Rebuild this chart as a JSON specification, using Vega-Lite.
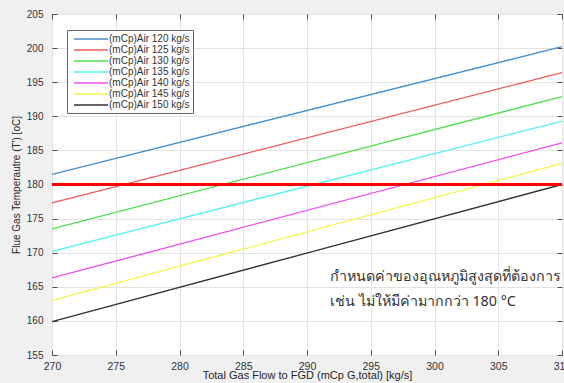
{
  "$schema": "https://vega.github.io/schema/vega-lite/v6.json",
  "autosize": "none",
  "width": 510,
  "height": 341,
  "padding": {"left": 52, "top": 14, "right": 2, "bottom": 28},
  "background": "#f0f0f0",
  "config": {
    "font": "Liberation Sans",
    "view": {"fill": "white", "stroke": "#4d4d4d", "strokeWidth": 1},
    "axis": {
      "labelFont": "Liberation Sans",
      "titleFont": "Liberation Sans",
      "labelColor": "#333333",
      "titleColor": "#262626",
      "labelFontSize": 10.5,
      "titleFontSize": 11,
      "titleFontWeight": "normal",
      "gridColor": "#e3e3e3",
      "gridWidth": 1,
      "domain": false,
      "tickColor": "#4d4d4d",
      "tickSize": -5
    }
  },
  "datasets": {
    "lines": [
      {"series": "(mCp)Air 120 kg/s", "flow": 270, "temp": 181.5},
      {"series": "(mCp)Air 120 kg/s", "flow": 310, "temp": 200.2},
      {"series": "(mCp)Air 125 kg/s", "flow": 270, "temp": 177.3},
      {"series": "(mCp)Air 125 kg/s", "flow": 310, "temp": 196.4},
      {"series": "(mCp)Air 130 kg/s", "flow": 270, "temp": 173.5},
      {"series": "(mCp)Air 130 kg/s", "flow": 310, "temp": 192.9},
      {"series": "(mCp)Air 135 kg/s", "flow": 270, "temp": 170.2},
      {"series": "(mCp)Air 135 kg/s", "flow": 310, "temp": 189.3},
      {"series": "(mCp)Air 140 kg/s", "flow": 270, "temp": 166.3},
      {"series": "(mCp)Air 140 kg/s", "flow": 310, "temp": 186.1},
      {"series": "(mCp)Air 145 kg/s", "flow": 270, "temp": 163.0},
      {"series": "(mCp)Air 145 kg/s", "flow": 310, "temp": 183.1},
      {"series": "(mCp)Air 150 kg/s", "flow": 270, "temp": 159.9},
      {"series": "(mCp)Air 150 kg/s", "flow": 310, "temp": 180.0}
    ],
    "limit": [{"temp": 180}],
    "notes": [
      {"flow": 291.8, "temp": 166.4, "label": "กำหนดค่าของอุณหภูมิสูงสุดที่ต้องการ"},
      {"flow": 291.8, "temp": 162.7, "label": "เช่น ไม่ให้มีค่ามากกว่า 180 °C"}
    ]
  },
  "layer": [
    {
      "data": {"name": "lines"},
      "mark": {"type": "line", "strokeWidth": 1.3},
      "encoding": {
        "x": {
          "field": "flow", "type": "quantitative",
          "scale": {"domain": [270, 310], "nice": false, "zero": false},
          "axis": {"values": [270, 275, 280, 285, 290, 295, 300, 305, 310], "title": "Total Gas Flow to FGD (mCp G,total) [kg/s]", "labelPadding": 11, "titlePadding": -2, "labelFlush": false}
        },
        "y": {
          "field": "temp", "type": "quantitative",
          "scale": {"domain": [155, 205], "nice": false, "zero": false},
          "axis": {"values": [155, 160, 165, 170, 175, 180, 185, 190, 195, 200, 205], "title": "Flue Gas Temperautre (T') [oC]", "titleFontSize": 10, "labelFontSize": 10, "labelPadding": 14, "titlePadding": 5}
        },
        "color": {
          "field": "series", "type": "nominal",
          "scale": {"range": ["#4a8fc9", "#f05a5a", "#4ee04e", "#55f0f0", "#f04ef0", "#f5f54a", "#333333"]},
          "legend": {
            "title": null,
            "orient": "none",
            "legendX": 15,
            "legendY": 16,
            "fillColor": "white",
            "strokeColor": "#666666",
            "padding": 3,
            "symbolType": "M-3.4,0H3.4",
            "symbolSize": 100,
            "symbolStrokeWidth": 1.5,
            "labelFontSize": 10,
            "labelFont": "Liberation Sans",
            "labelColor": "#333333",
            "rowPadding": -1.6,
            "symbolOffset": 15,
            "labelOffset": 12
          }
        }
      }
    },
    {
      "data": {"name": "limit"},
      "mark": {"type": "rule", "color": "#ff0000", "strokeWidth": 2.8},
      "encoding": {"y": {"field": "temp", "type": "quantitative", "axis": null}}
    },
    {
      "data": {"name": "notes"},
      "mark": {"type": "text", "align": "left", "baseline": "middle", "fontSize": 14.3, "color": "#333333", "font": "Noto Sans"},
      "encoding": {
        "x": {"field": "flow", "type": "quantitative", "axis": null},
        "y": {"field": "temp", "type": "quantitative", "axis": null},
        "text": {"field": "label"}
      }
    },
    {
      "data": {"name": "notes"},
      "mark": {"type": "point", "opacity": 0},
      "encoding": {
        "x": {"field": "flow", "type": "quantitative", "axis": {"orient": "top", "labels": false, "title": null, "grid": false, "values": [270, 275, 280, 285, 290, 295, 300, 305, 310]}},
        "y": {"field": "temp", "type": "quantitative", "axis": {"orient": "right", "labels": false, "title": null, "grid": false, "values": [155, 160, 165, 170, 175, 180, 185, 190, 195, 200, 205]}}
      }
    }
  ],
  "resolve": {"axis": {"x": "independent", "y": "independent"}}
}
